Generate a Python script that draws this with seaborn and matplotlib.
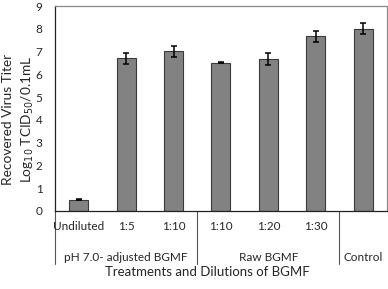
import matplotlib
matplotlib.use("Agg")
import matplotlib.pyplot as plt
import matplotlib.transforms as mtransforms
import pandas as pd
import seaborn as sns

dilutions = ["Undiluted", "1:5", "1:10", "1:10", "1:20", "1:30", ""]
groups = ["pH 7.0- adjusted BGMF", "Raw BGMF", "Control"]
group_sizes = [3, 3, 1]
titers = [0.5, 6.7, 7.02, 6.52, 6.68, 7.67, 8.01]
errors = [0.02, 0.24, 0.24, 0.02, 0.25, 0.23, 0.25]

sns.set_theme(style="white")
plt.rcParams["font.family"] = ["Lato", "DejaVu Sans"]

df = pd.DataFrame({"pos": [str(i) for i in range(len(titers))], "titer": titers})

fig = plt.figure(figsize=(3.88, 2.89), dpi=100)
ax = fig.add_axes([0.142, 0.27, 0.855, 0.709])
sns.barplot(data=df, x="pos", y="titer", ax=ax, color="#828282", saturation=1,
            width=0.4, edgecolor="#3a3a3a", linewidth=0.8)
ax.errorbar(range(len(titers)), titers, yerr=errors, fmt="none", ecolor="black",
            elinewidth=1.1, capsize=2.5, capthick=1.1)

ax.set_ylim(0, 9)
ax.set_xlim(-0.5, len(titers) - 0.5)
ax.set_yticks(range(10))
ax.tick_params(axis="y", labelsize=8.5, length=0, pad=9)
ax.set_xticks([])
ax.set_xlabel("")
ax.set_ylabel("")
fig.text(0.05, 0.585, "Recovered Virus Titer\nLog$_{10}$ TCID$_{50}$/0.1mL",
         rotation=90, ha="center", va="center", fontsize=9.8, linespacing=1.45)

for side in ["top", "right"]:
    ax.spines[side].set_color("#888888")
    ax.spines[side].set_linewidth(0.9)
for side in ["left", "bottom"]:
    ax.spines[side].set_color("#222222")
    ax.spines[side].set_linewidth(0.9)

trans = mtransforms.blended_transform_factory(ax.transData, ax.transAxes)
for i, lab in enumerate(dilutions):
    ax.text(i, -0.075, lab, transform=trans, ha="center", va="center", fontsize=8.5)

start = 0
for g, n in zip(groups, group_sizes):
    ax.text(start + (n - 1) / 2, -0.225, g, transform=trans, ha="center",
            va="center", fontsize=8.5)
    start += n

bounds = [0]
for n in group_sizes:
    bounds.append(bounds[-1] + n)
for b in bounds[:-1]:
    ax.plot([b - 0.5, b - 0.5], [0, -0.26], transform=trans, color="#555555",
            lw=0.8, clip_on=False)

fig.text(0.534, 0.058, "Treatments and Dilutions of BGMF", ha="center",
         va="center", fontsize=9.5)

fig.savefig("out.png", dpi=100)
